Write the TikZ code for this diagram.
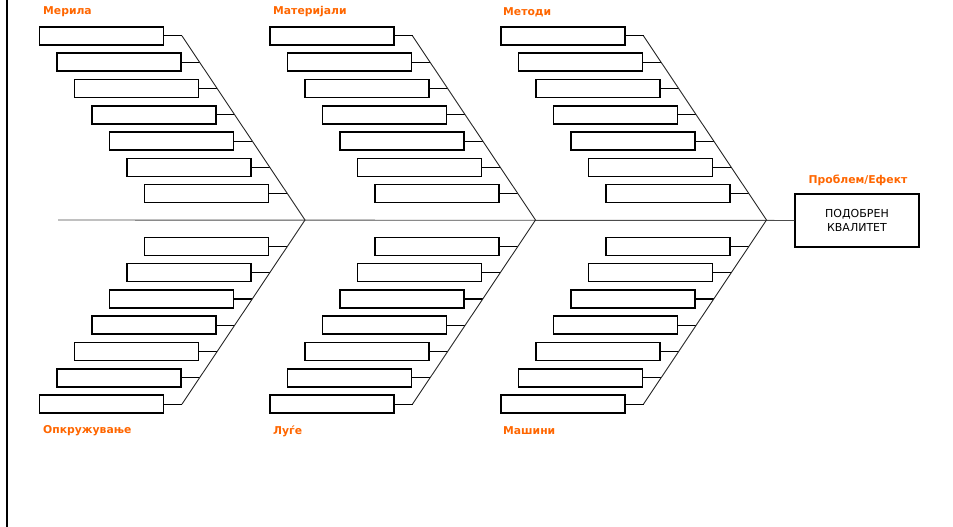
\documentclass[tikz,border=0pt]{standalone}
\usepackage{fontspec}
\setmainfont{DejaVu Sans}
\usepackage{xcolor}
\usepackage{tikz}
\usetikzlibrary{positioning, calc}

\definecolor{catorange}{RGB}{255,102,0}

\begin{document}
\begin{tikzpicture}[x=1pt, y=-1pt,
        cause/.style={rectangle, draw, line width=1.5pt, minimum width=124pt, minimum height=18pt, inner sep=0pt, fill=white},
        rib/.style={line width=1.2pt},
        bone/.style={line width=0.9pt, black!85},
        cat/.style={text=catorange, font=\bfseries\fontsize{10.8}{12}\selectfont, anchor=west, inner sep=0pt}]

        \useasboundingbox (0,0) rectangle (953,527);

        % left frame line
        \coordinate (ftop) at (7,0);
        \coordinate (fbot) at (7,527);
        \draw[line width=2pt] (ftop) -- (fbot);

        % effect
        \node[rectangle, draw, line width=1.5pt, minimum width=124pt, minimum height=53pt, align=center, font=\fontsize{11}{13.5}\selectfont] (effect) at (857,220.5) {ПОДОБРЕН\\КВАЛИТЕТ};
        \node[cat, anchor=center] (problem) at (858,180) {Проблем/Ефект};

        % spine
        \coordinate (tail) at (58,220);
        \draw[bone, black!70] (tail) -- (effect);

        % bones and cause boxes
        \foreach \g/\dx in {a/0, b/230.5, c/461.5} {
            \coordinate (\g-0) at ({305+\dx},220);
            \foreach \j in {1,...,7} {
                \coordinate (\g-t\j) at ({305+\dx-17.57*\j},{220-26.3*\j});
                \coordinate (\g-b\j) at ({305+\dx-17.57*\j},{220+26.3*\j});
                \node[cause, anchor=east] (\g-tc\j) at ([xshift=-18pt]\g-t\j) {};
                \node[cause, anchor=east] (\g-bc\j) at ([xshift=-18pt]\g-b\j) {};
                \draw[rib] (\g-tc\j) -- (\g-t\j);
                \draw[rib] (\g-bc\j) -- (\g-b\j);
            }
            \draw[bone] (\g-t7) -- (\g-0) -- (\g-b7);
        }

        % categories
        \node[cat] (meri) at (43,12) {Мерила};
        \node[cat] (mate) at (273,12) {Материјали};
        \node[cat] (meto) at (503,12) {Методи};
        \node[cat] (okru) at (43,431) {Опкружување};
        \node[cat] (lug) at (273,431) {Луѓе};
        \node[cat] (mash) at (503,431) {Машини};
\end{tikzpicture}
\end{document}
